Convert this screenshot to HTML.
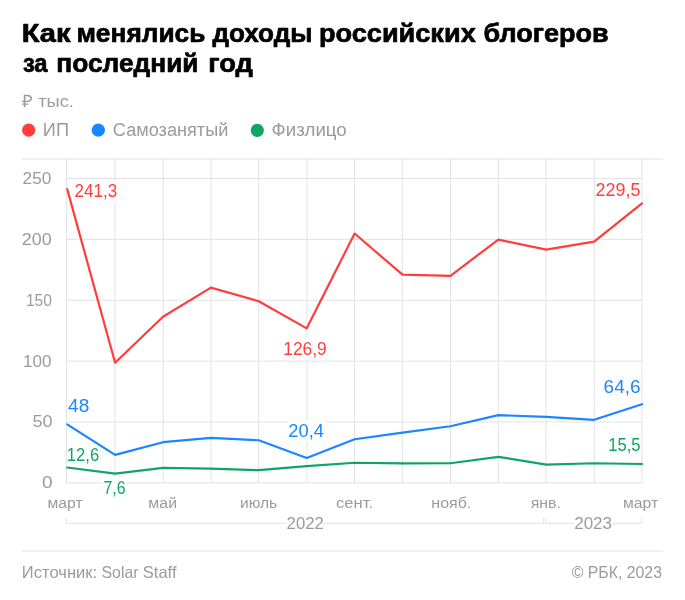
<!DOCTYPE html>
<html lang="ru">
<head>
<meta charset="utf-8">
<title>Как менялись доходы российских блогеров за последний год</title>
<style>
html,body{margin:0;padding:0;background:#fff;}
body{width:685px;height:600px;overflow:hidden;font-family:"Liberation Sans",sans-serif;}
svg{display:block;font-family:"Liberation Sans",sans-serif;}
text{fill:#9b9b9b;}
.title{font-size:26.5px;font-weight:bold;stroke:#000;stroke-width:0.7px;stroke-linejoin:round;}
.sub{font-size:17.0px;}
.leg{font-size:18.0px;}
.ax{font-size:16.7px;}
.xl{font-size:15.4px;}
.yr{font-size:16.0px;}
.foot{font-size:16.5px;}
.val{font-size:18.3px;}
.title{fill:#000;}
.grid line{stroke:#e3e3e3;stroke-width:1;}
.series polyline{fill:none;stroke-width:2.2;stroke-linejoin:round;stroke-linecap:round;}
</style>
</head>
<body>
<svg width="685" height="600" viewBox="0 0 685 600">
<rect width="685" height="600" fill="#fff"/>
<defs><filter id="gs" filterUnits="userSpaceOnUse" x="0" y="0" width="685" height="600" color-interpolation-filters="sRGB"><feOffset dx="0" dy="0"/></filter></defs>
<g filter="url(#gs)">
<!-- title, subtitle, legend -->
<text class="title" x="21.73" y="41.60" textLength="48.82" lengthAdjust="spacingAndGlyphs">Как</text>
<text class="title" x="76.41" y="41.60" textLength="129.00" lengthAdjust="spacingAndGlyphs">менялись</text>
<text class="title" x="212.45" y="41.60" textLength="100.00" lengthAdjust="spacingAndGlyphs">доходы</text>
<text class="title" x="318.92" y="41.60" textLength="156.84" lengthAdjust="spacingAndGlyphs">российских</text>
<text class="title" x="483.44" y="41.60" textLength="125.15" lengthAdjust="spacingAndGlyphs">блогеров</text>
<text class="title" x="22.88" y="72.20" textLength="24.71" lengthAdjust="spacingAndGlyphs">за</text>
<text class="title" x="56.31" y="72.20" textLength="142.24" lengthAdjust="spacingAndGlyphs">последний</text>
<text class="title" x="208.16" y="72.20" textLength="44.65" lengthAdjust="spacingAndGlyphs">год</text>
<text class="sub" x="22.40" y="106.50" textLength="51.56" lengthAdjust="spacingAndGlyphs">₽ тыс.</text>
<circle cx="28.7" cy="130.2" r="6.6" fill="#ff3d3d"/>
<circle cx="98.3" cy="130.2" r="6.6" fill="#1a86ff"/>
<circle cx="257.3" cy="130.3" r="6.6" fill="#0fa562"/>
<text class="leg" x="42.89" y="136.00" textLength="26.10" lengthAdjust="spacingAndGlyphs">ИП</text>
<text class="leg" x="112.84" y="136.00" textLength="115.50" lengthAdjust="spacingAndGlyphs">Самозанятый</text>
<text class="leg" x="271.56" y="136.00" textLength="75.18" lengthAdjust="spacingAndGlyphs">Физлицо</text>
<!-- grid -->
<g class="grid">
<line x1="22" y1="159" x2="663" y2="159"/>
<line x1="66.00" y1="482.85" x2="642.50" y2="482.85"/>
<line x1="66.00" y1="421.98" x2="642.50" y2="421.98"/>
<line x1="66.00" y1="361.11" x2="642.50" y2="361.11"/>
<line x1="66.00" y1="300.24" x2="642.50" y2="300.24"/>
<line x1="66.00" y1="239.37" x2="642.50" y2="239.37"/>
<line x1="66.00" y1="178.50" x2="642.50" y2="178.50"/>
<line x1="66.50" y1="159" x2="66.50" y2="483.35"/>
<line x1="114.80" y1="159" x2="114.80" y2="483.35"/>
<line x1="163.20" y1="159" x2="163.20" y2="483.35"/>
<line x1="211.00" y1="159" x2="211.00" y2="483.35"/>
<line x1="258.70" y1="159" x2="258.70" y2="483.35"/>
<line x1="306.90" y1="159" x2="306.90" y2="483.35"/>
<line x1="354.50" y1="159" x2="354.50" y2="483.35"/>
<line x1="402.30" y1="159" x2="402.30" y2="483.35"/>
<line x1="450.50" y1="159" x2="450.50" y2="483.35"/>
<line x1="498.40" y1="159" x2="498.40" y2="483.35"/>
<line x1="546.00" y1="159" x2="546.00" y2="483.35"/>
<line x1="594.30" y1="159" x2="594.30" y2="483.35"/>
<line x1="642.00" y1="159" x2="642.00" y2="483.35"/>
</g>
<!-- axis labels -->
<text class="ax" x="22.63" y="183.90" textLength="28.70" lengthAdjust="spacingAndGlyphs">250</text>
<text class="ax" x="21.80" y="244.77" textLength="29.86" lengthAdjust="spacingAndGlyphs">200</text>
<text class="ax" x="25.94" y="305.64" textLength="25.93" lengthAdjust="spacingAndGlyphs">150</text>
<text class="ax" x="23.12" y="366.51" textLength="28.51" lengthAdjust="spacingAndGlyphs">100</text>
<text class="ax" x="32.59" y="427.38" textLength="20.03" lengthAdjust="spacingAndGlyphs">50</text>
<text class="ax" x="42.03" y="488.25" textLength="10.58" lengthAdjust="spacingAndGlyphs">0</text>
<text class="xl" x="47.58" y="508.20" textLength="35.00" lengthAdjust="spacingAndGlyphs">март</text>
<text class="xl" x="148.37" y="508.20" textLength="28.67" lengthAdjust="spacingAndGlyphs">май</text>
<text class="xl" x="239.99" y="508.20" textLength="37.19" lengthAdjust="spacingAndGlyphs">июль</text>
<text class="xl" x="336.06" y="508.20" textLength="37.04" lengthAdjust="spacingAndGlyphs">сент.</text>
<text class="xl" x="431.36" y="508.20" textLength="39.94" lengthAdjust="spacingAndGlyphs">нояб.</text>
<text class="xl" x="530.74" y="508.20" textLength="30.20" lengthAdjust="spacingAndGlyphs">янв.</text>
<text class="xl" x="622.98" y="508.20" textLength="35.21" lengthAdjust="spacingAndGlyphs">март</text>
<!-- year brackets -->
<g fill="none" stroke="#e3e3e3" stroke-width="1">
<polyline points="66.50,518 66.50,523.4 286.4,523.4"/>
<polyline points="324,523.4 543.5,523.4 543.5,518"/>
<polyline points="545.6,518 545.6,523.4 574,523.4"/>
<polyline points="612.4,523.4 642.00,523.4 642.00,518"/>
</g>
<text class="yr" x="286.61" y="528.60" textLength="37.27" lengthAdjust="spacingAndGlyphs">2022</text>
<text class="yr" x="574.20" y="528.60" textLength="37.83" lengthAdjust="spacingAndGlyphs">2023</text>
<!-- value label backgrounds -->
<rect x="74.2" y="180.6" width="43.3" height="22" fill="#fff"/>
<rect x="283.4" y="338.1" width="43.6" height="22" fill="#fff"/>
<rect x="595.3" y="179.0" width="45.4" height="22" fill="#fff"/>
<rect x="67.4" y="394.8" width="22.0" height="22" fill="#fff"/>
<rect x="288.0" y="419.8" width="36.6" height="22" fill="#fff"/>
<rect x="603.4" y="376.4" width="37.2" height="22" fill="#fff"/>
<rect x="67.0" y="443.8" width="32.4" height="22" fill="#fff"/>
<rect x="103.4" y="477.1" width="22.6" height="22" fill="#fff"/>
<rect x="608.4" y="433.8" width="32.6" height="22" fill="#fff"/>
<!-- series -->
<clipPath id="plot"><rect x="66.2" y="150" width="577" height="340"/></clipPath>
<g class="series" clip-path="url(#plot)">
<polyline stroke="#0fa562" points="67.20,467.51 115.10,473.60 163.00,467.88 210.90,468.61 258.80,470.19 306.70,466.17 354.60,462.76 402.50,463.37 450.40,463.25 498.30,456.80 546.20,464.59 594.10,463.25 642.00,463.98"/>
<polyline stroke="#1a86ff" points="67.20,424.41 115.10,454.85 163.00,442.19 210.90,437.81 258.80,440.24 306.70,458.02 354.60,439.27 402.50,432.57 450.40,426.24 498.30,415.16 546.20,416.87 594.10,419.79 642.00,404.21"/>
<polyline stroke="#ff3d3d" points="67.20,189.09 115.10,362.81 163.00,316.80 210.90,287.58 258.80,301.21 306.70,328.36 354.60,233.53 402.50,274.67 450.40,275.89 498.30,239.61 546.20,249.60 594.10,241.56 642.00,203.46"/>
</g>
<text class="val" x="74.50" y="197.30" textLength="42.74" lengthAdjust="spacingAndGlyphs" style="fill:#ff3d3d">241,3</text>
<text class="val" x="283.21" y="354.80" textLength="43.54" lengthAdjust="spacingAndGlyphs" style="fill:#ff3d3d">126,9</text>
<text class="val" x="595.56" y="195.70" textLength="44.91" lengthAdjust="spacingAndGlyphs" style="fill:#ff3d3d">229,5</text>
<text class="val" x="68.14" y="411.50" textLength="21.15" lengthAdjust="spacingAndGlyphs" style="fill:#1a86ff">48</text>
<text class="val" x="288.25" y="436.50" textLength="35.72" lengthAdjust="spacingAndGlyphs" style="fill:#1a86ff">20,4</text>
<text class="val" x="603.62" y="393.10" textLength="36.87" lengthAdjust="spacingAndGlyphs" style="fill:#1a86ff">64,6</text>
<text class="val" x="66.87" y="460.50" textLength="32.32" lengthAdjust="spacingAndGlyphs" style="fill:#0fa562">12,6</text>
<text class="val" x="103.53" y="493.80" textLength="22.06" lengthAdjust="spacingAndGlyphs" style="fill:#0fa562">7,6</text>
<text class="val" x="608.27" y="450.50" textLength="32.29" lengthAdjust="spacingAndGlyphs" style="fill:#0fa562">15,5</text>
<!-- footer -->
<line x1="22" y1="551" x2="663" y2="551" stroke="#e3e3e3" stroke-width="1"/>
<text class="foot" x="21.85" y="578.30" textLength="75.28" lengthAdjust="spacingAndGlyphs">Источник:</text>
<text class="foot" x="101.48" y="578.30" textLength="37.08" lengthAdjust="spacingAndGlyphs">Solar</text>
<text class="foot" x="142.75" y="578.30" textLength="33.74" lengthAdjust="spacingAndGlyphs">Staff</text>
<text class="foot" x="571.76" y="578.30" textLength="90.18" lengthAdjust="spacingAndGlyphs">© РБК, 2023</text>
</g>
</svg>
</body>
</html>
